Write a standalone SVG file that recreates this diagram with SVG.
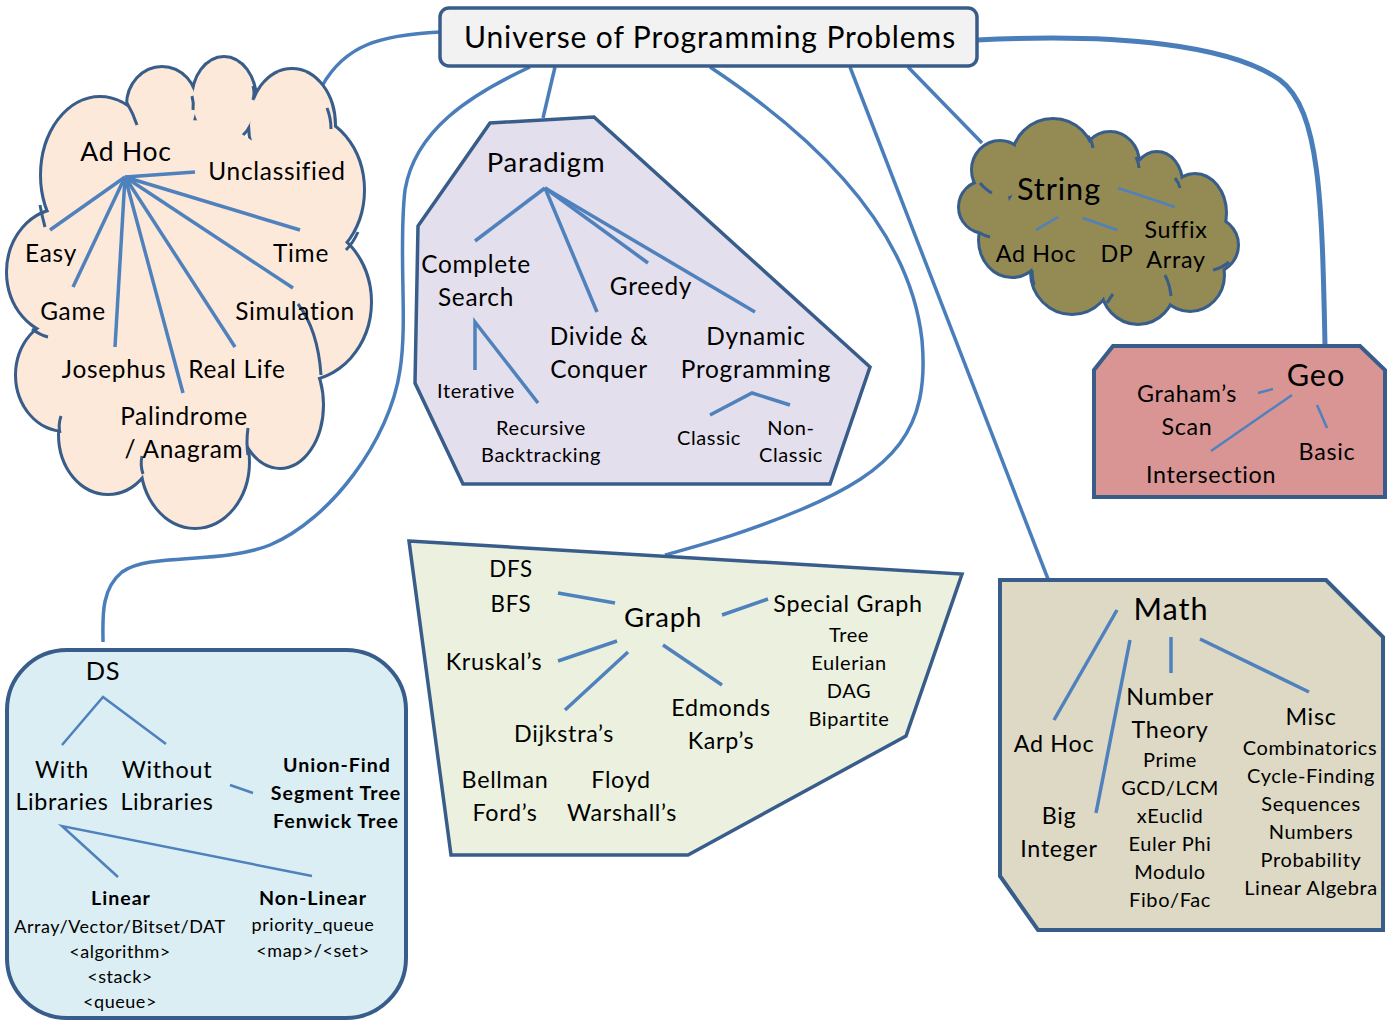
<svg xmlns="http://www.w3.org/2000/svg" xmlns:xlink="http://www.w3.org/1999/xlink" width="1395" height="1024" viewBox="0 0 1395 1024">
<style>
.t{font-family:Lato,"Liberation Sans",sans-serif;fill:#000;text-anchor:middle;letter-spacing:0.03em}
.b{font-weight:bold;letter-spacing:0.05em}
.ln{stroke:#4F81BD;stroke-width:3.5;fill:none}
.ln2{stroke:#4F81BD;stroke-width:2.5;fill:none}
.cn{stroke:#4A7EBB;stroke-width:3.5;fill:none}
.sh{stroke:#385D8A;stroke-width:3.5}
.tail{stroke:#385D8A;stroke-width:3;fill:none}
.adS{fill:#FDE9D9;stroke:#385D8A;stroke-width:6}
.adF{fill:#FDE9D9;stroke:none}
.stS{fill:#948A54;stroke:#385D8A;stroke-width:6}
.stF{fill:#948A54;stroke:none}
</style>
<defs>
<g id="adLobes">
<ellipse cx="100" cy="175" rx="58" ry="77"/>
<ellipse cx="162" cy="105" rx="34" ry="37"/>
<ellipse cx="224" cy="100" rx="31" ry="42"/>
<ellipse cx="292" cy="125" rx="42" ry="55"/>
<ellipse cx="300" cy="190" rx="63" ry="75"/>
<ellipse cx="300" cy="302" rx="70" ry="78"/>
<ellipse cx="280" cy="405" rx="42" ry="62"/>
<ellipse cx="195" cy="462" rx="53" ry="65"/>
<ellipse cx="108" cy="435" rx="48" ry="58"/>
<ellipse cx="65" cy="375" rx="48" ry="55"/>
<ellipse cx="62" cy="272" rx="54" ry="62"/>
</g>
<g id="stLobes">
<ellipse cx="985" cy="207" rx="25" ry="25"/>
<ellipse cx="1000" cy="170" rx="27" ry="28"/>
<ellipse cx="1053" cy="160" rx="40" ry="40"/>
<ellipse cx="1110" cy="163" rx="28" ry="30"/>
<ellipse cx="1157" cy="183" rx="24" ry="30"/>
<ellipse cx="1195" cy="213" rx="30" ry="38"/>
<ellipse cx="1207" cy="245" rx="30" ry="28"/>
<ellipse cx="1190" cy="275" rx="33" ry="35"/>
<ellipse cx="1138" cy="285" rx="36" ry="38"/>
<ellipse cx="1072" cy="272" rx="40" ry="41"/>
<ellipse cx="1012" cy="240" rx="32" ry="36"/>
</g>
</defs>
<rect width="1395" height="1024" fill="#FFFFFF"/>

<g id="connectors">
<path class="cn" d="M440,32 C380,35 345,45 322,86"/>
<path class="cn" d="M530,67 C470,95 415,130 405,190 C398,250 408,320 400,370 C390,440 330,520 270,545 C220,565 150,552 122,572 C100,590 103,620 103,642"/>
<path class="cn" d="M555,67 L543,118"/>
<path class="cn" d="M710,67 C820,140 910,230 922,340 C930,430 895,470 800,510 C740,535 700,545 665,555"/>
<path class="cn" d="M850,67 L1048,579"/>
<path class="cn" d="M908,67 L982,143"/>
<path class="cn" style="stroke-width:5" d="M977,40 C1120,33 1230,45 1280,80 C1320,110 1322,200 1325,345"/>
</g>

<g id="root">
<rect x="440" y="8" width="537" height="58" rx="9" fill="#F2F2F2" class="sh"/>
<text class="t" x="710" y="48" font-size="30">Universe of Programming Problems</text>
</g>

<g id="adhoc">
<use xlink:href="#adLobes" href="#adLobes" class="adS"/>
<use xlink:href="#adLobes" href="#adLobes" class="adF"/>
<ellipse cx="190" cy="290" rx="130" ry="170" class="adF"/>
<path class="tail" d="M40,205 Q42,216 45,227"/>
<path class="tail" d="M127,103 Q133,113 137,125"/>
<path class="tail" d="M192,96 Q194,103 193,110"/>
<path class="tail" d="M253,86 Q255,93 253,100"/>
<path class="tail" d="M327,108 Q331,118 331,129"/>
<path class="tail" d="M358,232 Q353,243 346,250"/>
<path class="tail" d="M298,304 Q318,330 321,375"/>
<path class="tail" d="M248,428 Q246,442 248,455"/>
<path class="tail" d="M143,474 Q140,465 142,456"/>
<path class="tail" d="M60,433 Q58,425 61,416"/>
<path class="tail" d="M32,329 Q40,335 48,337"/>
<line class="ln" x1="125" y1="177" x2="195" y2="172"/>
<line class="ln" x1="125" y1="177" x2="300" y2="230"/>
<line class="ln" x1="125" y1="177" x2="50" y2="230"/>
<line class="ln" x1="125" y1="177" x2="73" y2="287"/>
<line class="ln" x1="125" y1="177" x2="115" y2="347"/>
<line class="ln" x1="125" y1="177" x2="183" y2="393"/>
<line class="ln" x1="125" y1="177" x2="235" y2="347"/>
<line class="ln" x1="125" y1="177" x2="293" y2="288"/>
<text class="t" x="126" y="161" font-size="26.5">Ad Hoc</text>
<text class="t" x="277" y="180" font-size="24.4">Unclassified</text>
<text class="t" x="51" y="262" font-size="24.4">Easy</text>
<text class="t" x="301" y="262" font-size="24.4">Time</text>
<text class="t" x="73" y="320" font-size="24.4">Game</text>
<text class="t" x="295" y="320" font-size="24.4">Simulation</text>
<text class="t" x="114" y="378" font-size="24.4">Josephus</text>
<text class="t" x="237" y="378" font-size="24.4">Real Life</text>
<text class="t" x="184" y="425" font-size="24.4">Palindrome</text>
<text class="t" x="184" y="458" font-size="24.4">/ Anagram</text>
</g>

<g id="paradigm">
<polygon class="sh" fill="#E4DFEC" points="490,123 594,117 870,367 830,484 463,484 415,383 418,226"/>
<line class="ln" x1="545" y1="188" x2="475" y2="241"/>
<line class="ln" x1="545" y1="188" x2="597" y2="312"/>
<line class="ln" x1="545" y1="188" x2="648" y2="263"/>
<line class="ln" x1="545" y1="188" x2="755" y2="312"/>
<polyline class="ln" points="475,370 475,322 538,403"/>
<polyline class="ln" points="710,415 752,393 790,405"/>
<text class="t" x="546" y="172" font-size="27.5">Paradigm</text>
<text class="t" x="476" y="273" font-size="24.4">Complete</text>
<text class="t" x="476" y="306" font-size="24.4">Search</text>
<text class="t" x="651" y="295" font-size="24.4">Greedy</text>
<text class="t" x="599" y="345" font-size="24.4">Divide &amp;</text>
<text class="t" x="599" y="378" font-size="24.4">Conquer</text>
<text class="t" x="756" y="345" font-size="24.4">Dynamic</text>
<text class="t" x="756" y="378" font-size="24.4">Programming</text>
<text class="t" x="476" y="398" font-size="20">Iterative</text>
<text class="t" x="541" y="435" font-size="20">Recursive</text>
<text class="t" x="541" y="462" font-size="20">Backtracking</text>
<text class="t" x="709" y="445" font-size="20">Classic</text>
<text class="t" x="791" y="435" font-size="20">Non-</text>
<text class="t" x="791" y="462" font-size="20">Classic</text>
</g>

<g id="string">
<use xlink:href="#stLobes" href="#stLobes" class="stS"/>
<use xlink:href="#stLobes" href="#stLobes" class="stF"/>
<ellipse cx="1100" cy="220" rx="95" ry="65" class="stF"/>
<path class="tail" d="M980,183 Q986,190 992,193"/>
<path class="tail" d="M1088,136 Q1092,141 1093,148"/>
<path class="tail" d="M1136,157 Q1139,163 1139,168"/>
<path class="tail" d="M1175,178 Q1179,183 1180,188"/>
<path class="tail" d="M1229,262 Q1222,268 1213,270"/>
<path class="tail" d="M1165,275 Q1170,285 1171,296"/>
<path class="tail" d="M1107,303 Q1110,298 1113,294"/>
<path class="tail" d="M1032,270 Q1032,278 1034,285"/>
<path class="tail" d="M980,233 Q985,236 990,237"/>
<line class="ln2" x1="1118" y1="188" x2="1175" y2="207"/>
<line class="ln2" x1="1058" y1="217" x2="1036" y2="230"/>
<line class="ln2" x1="1083" y1="218" x2="1117" y2="230"/>
<text class="t" x="1059" y="200" font-size="30.7">String</text>
<text class="t" x="1036" y="262" font-size="23.3">Ad Hoc</text>
<text class="t" x="1117" y="262" font-size="23.3">DP</text>
<text class="t" x="1176" y="238" font-size="23.3">Suffix</text>
<text class="t" x="1176" y="268" font-size="23.3">Array</text>
</g>

<g id="geo">
<polygon class="sh" style="stroke-width:4" fill="#D99594" points="1113,346 1360,346 1385,370 1385,497 1094,497 1094,370"/>
<line class="ln2" x1="1258" y1="393" x2="1273" y2="389"/>
<line class="ln2" x1="1292" y1="395" x2="1211" y2="451"/>
<line class="ln2" x1="1317" y1="405" x2="1327" y2="428"/>
<text class="t" x="1316" y="386" font-size="30.7">Geo</text>
<text class="t" x="1187" y="402" font-size="23.3">Graham’s</text>
<text class="t" x="1187" y="435" font-size="23.3">Scan</text>
<text class="t" x="1327" y="460" font-size="23.3">Basic</text>
<text class="t" x="1211" y="483" font-size="23.3">Intersection</text>
</g>

<g id="graph">
<polygon class="sh" fill="#EBF1DE" points="409,541 962,574 906,736 688,855 451,855"/>
<line class="ln" x1="558" y1="593" x2="615" y2="603"/>
<line class="ln" x1="722" y1="615" x2="768" y2="599"/>
<line class="ln" x1="558" y1="661" x2="617" y2="641"/>
<line class="ln" x1="565" y1="710" x2="628" y2="652"/>
<line class="ln" x1="663" y1="645" x2="722" y2="685"/>
<text class="t" x="511" y="577" font-size="22.3">DFS</text>
<text class="t" x="511" y="612" font-size="22.3">BFS</text>
<text class="t" x="663" y="627" font-size="27.5">Graph</text>
<text class="t" x="848" y="612" font-size="23.3">Special Graph</text>
<text class="t" x="849" y="642" font-size="20">Tree</text>
<text class="t" x="849" y="670" font-size="20">Eulerian</text>
<text class="t" x="849" y="698" font-size="20">DAG</text>
<text class="t" x="849" y="726" font-size="20">Bipartite</text>
<text class="t" x="494" y="670" font-size="23.3">Kruskal’s</text>
<text class="t" x="564" y="742" font-size="23.3">Dijkstra’s</text>
<text class="t" x="721" y="716" font-size="23.3">Edmonds</text>
<text class="t" x="721" y="749" font-size="23.3">Karp’s</text>
<text class="t" x="505" y="788" font-size="23.3">Bellman</text>
<text class="t" x="505" y="821" font-size="23.3">Ford’s</text>
<text class="t" x="621" y="788" font-size="23.3">Floyd</text>
<text class="t" x="622" y="821" font-size="23.3">Warshall’s</text>
</g>

<g id="math">
<polygon class="sh" style="stroke-width:4" fill="#DDD9C4" points="1000,580 1326,580 1383,637 1383,930 1038,930 1000,876"/>
<line class="ln" x1="1117" y1="610" x2="1054" y2="720"/>
<line class="ln" x1="1130" y1="640" x2="1096" y2="813"/>
<line class="ln" x1="1171" y1="637" x2="1171" y2="673"/>
<line class="ln" x1="1200" y1="639" x2="1309" y2="692"/>
<text class="t" x="1171" y="620" font-size="30.7">Math</text>
<text class="t" x="1054" y="752" font-size="23.3">Ad Hoc</text>
<text class="t" x="1059" y="824" font-size="23.3">Big</text>
<text class="t" x="1059" y="857" font-size="23.3">Integer</text>
<text class="t" x="1170" y="705" font-size="23.3">Number</text>
<text class="t" x="1170" y="738" font-size="23.3">Theory</text>
<text class="t" x="1170" y="767" font-size="20">Prime</text>
<text class="t" x="1170" y="795" font-size="20">GCD/LCM</text>
<text class="t" x="1170" y="823" font-size="20">xEuclid</text>
<text class="t" x="1170" y="851" font-size="20">Euler Phi</text>
<text class="t" x="1170" y="879" font-size="20">Modulo</text>
<text class="t" x="1170" y="907" font-size="20">Fibo/Fac</text>
<text class="t" x="1311" y="725" font-size="23.3">Misc</text>
<text class="t" x="1310" y="755" font-size="20">Combinatorics</text>
<text class="t" x="1311" y="783" font-size="20">Cycle-Finding</text>
<text class="t" x="1311" y="811" font-size="20">Sequences</text>
<text class="t" x="1311" y="839" font-size="20">Numbers</text>
<text class="t" x="1311" y="867" font-size="20">Probability</text>
<text class="t" x="1311" y="895" font-size="20">Linear Algebra</text>
</g>

<g id="ds">
<rect x="7" y="650" width="399" height="368" rx="60" fill="#DBEEF4" class="sh" style="stroke-width:4"/>
<polyline class="ln2" points="62,745 103,697 166,744"/>
<line class="ln2" x1="230" y1="785" x2="253" y2="793"/>
<polyline class="ln2" points="118,877 62,826 312,876"/>
<text class="t" x="103" y="680" font-size="25.4">DS</text>
<text class="t" x="62" y="778" font-size="23.3">With</text>
<text class="t" x="62" y="810" font-size="23.3">Libraries</text>
<text class="t" x="167" y="778" font-size="23.3">Without</text>
<text class="t" x="167" y="810" font-size="23.3">Libraries</text>
<text class="t b" x="337" y="772" font-size="19.6">Union-Find</text>
<text class="t b" x="336" y="800" font-size="19.6">Segment Tree</text>
<text class="t b" x="336" y="828" font-size="19.6">Fenwick Tree</text>
<text class="t b" x="121" y="905" font-size="19.6">Linear</text>
<text class="t" x="120" y="933" font-size="18">Array/Vector/Bitset/DAT</text>
<text class="t" x="120" y="958" font-size="18">&lt;algorithm&gt;</text>
<text class="t" x="120" y="983" font-size="18">&lt;stack&gt;</text>
<text class="t" x="120" y="1008" font-size="18">&lt;queue&gt;</text>
<text class="t b" x="313" y="905" font-size="19.6">Non-Linear</text>
<text class="t" x="313" y="931" font-size="18">priority_queue</text>
<text class="t" x="313" y="957" font-size="18">&lt;map&gt;/&lt;set&gt;</text>
</g>
</svg>
